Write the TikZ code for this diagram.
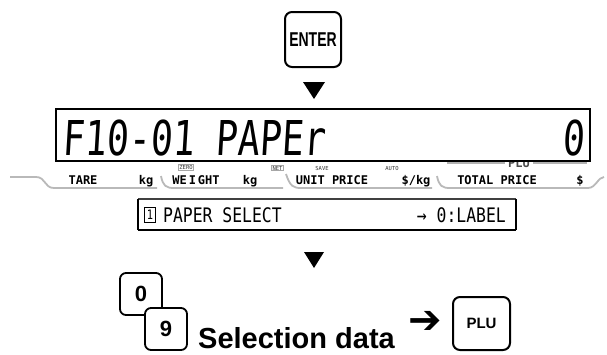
\documentclass[tikz,border=0pt]{standalone}
\usepackage{graphicx}
\usepackage{fontspec}
\setmainfont{Liberation Sans}
\newfontfamily\lcdfont[FakeSlant=0.08]{DejaVu Sans Mono}
\newfontfamily\monofont{DejaVu Sans Mono}
\newfontfamily\symfont{DejaVu Sans}
\begin{document}
\begin{tikzpicture}[x=1pt,y=-1pt,
  key/.style={draw, line width=2pt, rounded corners=7pt, fill=white, inner sep=0pt, font=\bfseries},
  lbl/.style={font=\monofont\bfseries\fontsize{12}{12}\selectfont, inner sep=0pt, anchor=base},
  tab/.style={draw=gray!55, line width=1.8pt},
  tiny/.style={font=\monofont\fontsize{5.5}{5.5}\selectfont, inner sep=0.8pt, text=black!80},
  tinybox/.style={tiny, draw=gray!70, line width=0.7pt},
  tri/.style={fill=black},
  dlgtext/.style={font=\monofont\fontsize{20}{20}\selectfont, inner sep=0pt}]
\useasboundingbox (0,0) rectangle (607,354);

% ENTER key
\node[key, minimum width=56pt, minimum height=55pt] (enter) at (313,39.5)
  {\fontsize{20}{20}\selectfont\scalebox{0.7}[1]{ENTER}};
% triangle 1
\fill[tri] (303,82) -- (325,82) -- (314,99) -- cycle;

% PLU label under the display
\node[font=\monofont\bfseries\fontsize{12}{12}\selectfont, inner sep=0pt, text=black!70] (plu) at (519,163) {PLU};
\draw[gray!60, line width=2pt] (447,163) -- (505,163);
\draw[gray!60, line width=2pt] (533,163) -- (587,163);

% LCD display
\node[draw, line width=1.8pt, fill=white, minimum width=534pt, minimum height=52pt, inner sep=0pt] (lcd) at (323,135) {};
\node[anchor=base west, inner sep=0pt, font=\lcdfont\fontsize{48}{48}\selectfont] (lcdtext) at (62,155)
  {\scalebox{0.76}[1]{F10-01 PAPEr}};
\node[anchor=base east, inner sep=0pt, font=\lcdfont\fontsize{48}{48}\selectfont] (lcdval) at (585,155)
  {\scalebox{0.76}[1]{0}};

% tabs
\draw[tab] (10,177) -- (36,177) .. controls (46,177) and (44,188) .. (54,188) -- (157,188);
\draw[tab] (161,176) .. controls (163,186) and (166,188) .. (174,188) -- (283,188);
\draw[tab] (286,174) .. controls (290,186) and (293,188) .. (301,188) -- (432,188);
\draw[tab] (437,176) .. controls (439,186) and (442,188) .. (450,188) -- (588,188) .. controls (596,188) and (598,177) .. (604,177);

% small labels
\node[tinybox] (zero) at (186,167.5) {ZERO};
\node[tinybox] (net) at (277.5,168) {NET};
\node[tiny] (save) at (322,168) {SAVE};
\node[tiny] (auto) at (392,168) {AUTO};

% main labels
\node[lbl] (tare) at (83,184.5) {TARE};
\node[lbl] (kg1) at (146,184.5) {kg};
\node[lbl] (weight) at (196,184.5) {WE\,I\,GHT};
\node[lbl] (kg2) at (250,184.5) {kg};
\node[lbl] (unit) at (332,184.5) {UNIT PRICE};
\node[lbl] (skg) at (416,184.5) {\$/kg};
\node[lbl] (total) at (497,184.5) {TOTAL PRICE};
\node[lbl] (dol) at (580,184.5) {\$};

% dialog box
\coordinate (dnw) at (138,199);
\coordinate (dne) at (516,199);
\coordinate (dsw) at (138,230);
\coordinate (dse) at (516,230);
\draw[black!75, line width=1.6pt] (dnw) -- (dne);
\draw[black, line width=1.2pt] (dnw) -- (dsw);
\draw[black, line width=1.2pt] (dne) -- (dse);
\draw[black, line width=2.4pt] (dsw) -- (dse);
\node[draw, line width=0.8pt, inner sep=0pt, minimum width=11pt, minimum height=15pt,
  font=\monofont\fontsize{13}{13}\selectfont] (one) at (150,214.5) {\scalebox{0.8}[1]{1}};
\node[dlgtext, anchor=base west] (paper) at (163,222) {\scalebox{0.82}[1]{PAPER SELECT}};
\node[dlgtext, anchor=base east] (label) at (506,222) {\scalebox{0.82}[1]{→ 0:LABEL}};

% triangle 2
\fill[tri] (304,252) -- (324,252) -- (314,268) -- cycle;

% number keys
\node[key, line width=1.8pt, rounded corners=6pt, minimum width=42pt, minimum height=42pt,
  font=\bfseries\fontsize{22}{22}\selectfont] (k0) at (141,294) {0};
\node[key, line width=1.8pt, rounded corners=6pt, minimum width=42pt, minimum height=42pt,
  font=\bfseries\fontsize{22}{22}\selectfont] (k9) at (166,329) {9};

\node[anchor=base west, inner sep=0pt, font=\bfseries\fontsize{29}{29}\selectfont] (sel) at (198,348) {Selection data};
\node[inner sep=0pt, font=\symfont\bfseries\fontsize{40}{40}\selectfont] (arr) at (425,322) {➔};
\node[key, minimum width=57pt, minimum height=53pt, font=\bfseries\fontsize{15}{15}\selectfont] (pluk) at (481.5,323.5) {PLU};
\end{tikzpicture}
\end{document}
